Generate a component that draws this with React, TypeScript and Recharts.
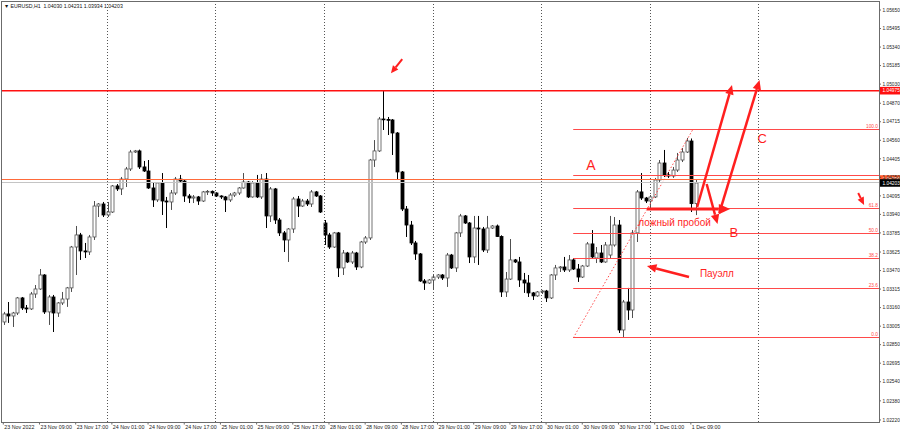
import React from 'react';
import { ComposedChart, Bar, XAxis, YAxis, ReferenceLine, ReferenceDot } from 'recharts';

// EURUSD H1, 23 Nov 01:00 .. 1 Dec 10:00 (one entry per hour bar)
const opens = [
  1.0304, 1.03107, 1.0309, 1.03115, 1.03241, 1.03157, 1.03149, 1.03274, 1.03316, 1.03433,
  1.03124, 1.03249, 1.03115, 1.03199, 1.03232, 1.03325, 1.03667, 1.03768, 1.03634, 1.03626,
  1.03751, 1.0401, 1.04027, 1.03935, 1.0396, 1.04178, 1.04153, 1.04236, 1.0432, 1.04462,
  1.04471, 1.04337, 1.04303, 1.04161, 1.04061, 1.04203, 1.04052, 1.04044, 1.04119, 1.04236,
  1.04219, 1.04094, 1.04077, 1.04086, 1.04052, 1.04128, 1.04133, 1.04119, 1.04094, 1.04086,
  1.04061, 1.04102, 1.04119, 1.04161, 1.04211, 1.04086, 1.04203, 1.04086, 1.04236, 1.03927,
  1.04153, 1.03893, 1.03785, 1.03726, 1.03818, 1.04069, 1.0401, 1.04052, 1.04027, 1.04128,
  1.04094, 1.03868, 1.03768, 1.03667, 1.03785, 1.03492, 1.03617, 1.03542, 1.03617, 1.035,
  1.03709, 1.03743, 1.04395, 1.04471, 1.04738, 1.04734, 1.0473, 1.04621, 1.04295, 1.03985,
  1.03851, 1.03701, 1.03609, 1.03383, 1.03366, 1.03391, 1.03416, 1.03433, 1.03408, 1.036,
  1.03492, 1.03785, 1.03927, 1.03868, 1.03584, 1.03826, 1.03818, 1.03642, 1.03826, 1.03843,
  1.03755, 1.03291, 1.03399, 1.03559, 1.03542, 1.03391, 1.03366, 1.03283, 1.03258, 1.03291,
  1.03299, 1.03241, 1.03433, 1.03492, 1.035, 1.03475, 1.03559, 1.03483, 1.03416, 1.03508,
  1.03693, 1.03575, 1.03617, 1.03542, 1.036, 1.03684, 1.03851, 1.02973, 1.03207, 1.0314,
  1.03785, 1.04128, 1.04077, 1.04052, 1.04086, 1.04228, 1.0437, 1.0427, 1.04261, 1.04311,
  1.04395, 1.04462, 1.04554, 1.0403,
];
const highs = [
  1.03124, 1.03207, 1.03124, 1.03249, 1.03249, 1.03182, 1.03291, 1.03349, 1.03483, 1.0344,
  1.03266, 1.03266, 1.03207, 1.03291, 1.03333, 1.03676, 1.03843, 1.03785, 1.03701, 1.03768,
  1.04052, 1.04035, 1.04044, 1.04044, 1.04186, 1.04194, 1.04253, 1.04337, 1.04479, 1.04479,
  1.04482, 1.04387, 1.04395, 1.04203, 1.0421, 1.04286, 1.04086, 1.04144, 1.04253, 1.0427,
  1.04236, 1.04111, 1.04102, 1.04094, 1.04136, 1.04144, 1.0414, 1.04125, 1.041, 1.04094,
  1.04119, 1.04128, 1.04169, 1.04286, 1.04219, 1.04219, 1.0427, 1.04278, 1.04286, 1.04169,
  1.04161, 1.0391, 1.03801, 1.03826, 1.04086, 1.04094, 1.04069, 1.04069, 1.04144, 1.04136,
  1.04102, 1.03893, 1.03785, 1.03793, 1.03793, 1.03642, 1.03626, 1.03634, 1.03626, 1.03718,
  1.03759, 1.04404, 1.04562, 1.04755, 1.04972, 1.04755, 1.04738, 1.04629, 1.04303, 1.0401,
  1.03885, 1.03718, 1.03617, 1.03399, 1.03399, 1.03433, 1.03441, 1.03441, 1.03617, 1.03609,
  1.03793, 1.03944, 1.03935, 1.03876, 1.03927, 1.03927, 1.03835, 1.03927, 1.03851, 1.03855,
  1.03765, 1.03458, 1.03734, 1.03567, 1.03584, 1.0345, 1.03433, 1.03291, 1.03299, 1.03308,
  1.03308, 1.03441, 1.03517, 1.03508, 1.03584, 1.036, 1.03575, 1.03525, 1.03517, 1.03709,
  1.03809, 1.03667, 1.03684, 1.03709, 1.03927, 1.03918, 1.03893, 1.03224, 1.03325, 1.03809,
  1.04144, 1.04286, 1.04086, 1.04102, 1.04245, 1.04395, 1.04479, 1.04295, 1.04337, 1.04454,
  1.04496, 1.04579, 1.04575, 1.04231,
];
const lows = [
  1.03015, 1.03032, 1.02998, 1.03098, 1.0314, 1.03115, 1.0314, 1.03241, 1.03308, 1.03107,
  1.03015, 1.02956, 1.03082, 1.03182, 1.03166, 1.03291, 1.03433, 1.03559, 1.03575, 1.036,
  1.03726, 1.03918, 1.03918, 1.03918, 1.03952, 1.04136, 1.04102, 1.04169, 1.04303, 1.04454,
  1.0432, 1.04295, 1.04153, 1.04002, 1.04044, 1.03935, 1.03826, 1.03977, 1.04102, 1.04211,
  1.04044, 1.04035, 1.04035, 1.04019, 1.04044, 1.04102, 1.04094, 1.04086, 1.04069, 1.0396,
  1.04044, 1.04086, 1.04102, 1.04155, 1.04077, 1.0408, 1.04077, 1.04069, 1.03826, 1.03876,
  1.0386, 1.03759, 1.03625, 1.03542, 1.03785, 1.03918, 1.04002, 1.0401, 1.04002, 1.04086,
  1.03952, 1.03684, 1.03651, 1.03659, 1.03416, 1.03433, 1.03533, 1.03525, 1.03475, 1.0349,
  1.03693, 1.03726, 1.04337, 1.04462, 1.04646, 1.04604, 1.04437, 1.04228, 1.03968, 1.03751,
  1.03684, 1.03559, 1.03375, 1.03308, 1.03358, 1.03308, 1.03399, 1.03391, 1.03333, 1.03483,
  1.03458, 1.03751, 1.0386, 1.03533, 1.03533, 1.03517, 1.03625, 1.03617, 1.03818, 1.03751,
  1.03249, 1.03249, 1.03391, 1.03533, 1.03333, 1.03283, 1.03249, 1.03224, 1.0325, 1.03274,
  1.03207, 1.03232, 1.03391, 1.03458, 1.03458, 1.03458, 1.03475, 1.03375, 1.03408, 1.035,
  1.03575, 1.03533, 1.03533, 1.03535, 1.03575, 1.0367, 1.02948, 1.02906, 1.03057, 1.03073,
  1.03709, 1.04061, 1.04035, 1.03977, 1.04077, 1.04211, 1.04253, 1.04245, 1.04245, 1.04295,
  1.04378, 1.04454, 1.0396, 1.03934,
];
const closes = [
  1.03107, 1.0309, 1.03115, 1.03241, 1.03157, 1.03149, 1.03274, 1.03316, 1.03433, 1.03124,
  1.03249, 1.03115, 1.03199, 1.03232, 1.03325, 1.03667, 1.03768, 1.03634, 1.03626, 1.03751,
  1.0401, 1.04027, 1.03935, 1.0396, 1.04178, 1.04153, 1.04236, 1.0432, 1.04462, 1.04471,
  1.04337, 1.04303, 1.04161, 1.04061, 1.04203, 1.04052, 1.04044, 1.04119, 1.04236, 1.04219,
  1.04094, 1.04077, 1.04086, 1.04052, 1.04128, 1.04133, 1.04119, 1.04094, 1.04086, 1.04061,
  1.04102, 1.04119, 1.04161, 1.04211, 1.04086, 1.04203, 1.04086, 1.04236, 1.03927, 1.04153,
  1.03893, 1.03785, 1.03726, 1.03818, 1.04069, 1.0401, 1.04052, 1.04027, 1.04128, 1.04094,
  1.0396, 1.03768, 1.03667, 1.03785, 1.03492, 1.03617, 1.03542, 1.03617, 1.035, 1.03709,
  1.03743, 1.04395, 1.04471, 1.04738, 1.04734, 1.0473, 1.04621, 1.04295, 1.03985, 1.03851,
  1.03701, 1.03609, 1.03383, 1.03366, 1.03391, 1.03416, 1.03433, 1.03408, 1.036, 1.03492,
  1.03785, 1.03927, 1.03868, 1.03584, 1.03826, 1.03818, 1.03642, 1.03826, 1.03843, 1.03755,
  1.03291, 1.03399, 1.03559, 1.03542, 1.03391, 1.03366, 1.03283, 1.03258, 1.03291, 1.03299,
  1.03241, 1.03433, 1.03492, 1.035, 1.03475, 1.03559, 1.03483, 1.03416, 1.03508, 1.03693,
  1.03584, 1.03617, 1.03542, 1.03684, 1.03684, 1.03851, 1.02973, 1.03207, 1.0314, 1.03785,
  1.04128, 1.04077, 1.04052, 1.04086, 1.04228, 1.0437, 1.0427, 1.04261, 1.04311, 1.04395,
  1.04462, 1.04554, 1.0403, 1.04203,
];

const timeTickIdx = [0, 8, 16, 24, 32, 40, 48, 56, 64, 72, 80, 88, 96, 104, 112, 120, 128, 136, 144, 152];
const timeLabels = [
  '23 Nov 2022', '23 Nov 09:00', '23 Nov 17:00', '24 Nov 01:00', '24 Nov 09:00', '24 Nov 17:00',
  '25 Nov 01:00', '25 Nov 09:00', '25 Nov 17:00', '28 Nov 01:00', '28 Nov 09:00', '28 Nov 17:00',
  '29 Nov 01:00', '29 Nov 09:00', '29 Nov 17:00', '30 Nov 01:00', '30 Nov 09:00', '30 Nov 17:00',
  '1 Dec 01:00', '1 Dec 09:00',
];
const daySeparators = [23, 47, 71, 95, 119, 143, 167];
const priceTicks = [
  1.0565, 1.05495, 1.0534, 1.05185, 1.0503, 1.0487, 1.04715, 1.0456, 1.04405, 1.0425, 1.04095, 1.0394,
  1.03785, 1.03625, 1.0347, 1.03315, 1.0316, 1.03005, 1.0285, 1.02695, 1.0254, 1.0238, 1.0222,
];

// drawn objects
const resistance = 1.04975;
const orangeLevel = 1.04236;
const levelA = 1.04264;
const fibLevels = [0, 23.6, 38.2, 50, 61.8, 100];
const fibLow = 1.02906;
const fibHigh = 1.04654;
const fibStart = 126;
const fibEnd = 152.5;

const arrowFrom = [[88.2, 1.0524], [189.0, 1.04119], [151.6, 1.03416], [153.4, 1.04002], [155.5, 1.04194], [158.3, 1.03951], [142.3, 1.03985]];
const arrowTo = [[85.7, 1.0512], [190.3, 1.04019], [142.3, 1.03508], [161.1, 1.05023], [157.9, 1.0386], [167.2, 1.05064], [160.7, 1.03985]];
const arrowWeight = [2, 2, 2.5, 2.5, 2.5, 2.5, 3];

const noteText = ['A', 'B', 'C', 'ложный пробой', 'Пауэлл'];
const noteAt = [[129.9, 1.04312], [161.5, 1.03751], [167.8, 1.04537], [140.4, 1.03843], [154.0, 1.03416]];
const noteSize = [14, 13, 13, 10, 10];
const noteAnchor = ['middle', 'middle', 'middle', 'start', 'start'];

const candles = opens.map((o, i) => ({ idx: i, open: o, high: highs[i], low: lows[i], close: closes[i] }));
const last = candles.length - 1;

const xDomain = [-0.29, 193.6];
const yDomain = [1.02203, 1.05717];
const xMax = xDomain[1];

const FONT = '"Liberation Sans", Arial, sans-serif';
const RED = '#ff1f1f';
const FIB_RED = '#ff4a4a';

// snap a 1px line onto the pixel grid so it stays crisp
const crisp = (v: number) => Math.round(v - 0.5) + 0.5;

const Candle = (props: any) => {
  const { x, y, width, height, payload } = props;
  if (!payload) return null;
  const { open, close, high, low } = payload;
  const top = Math.min(y, y + height);
  const bot = Math.max(y, y + height);
  const span = high - low;
  const toY = (v: number) => (span > 0 ? top + ((high - v) / span) * (bot - top) : top);
  const cx = Math.round(x + width / 2) + 0.5;
  const up = close >= open;
  const bTop = toY(Math.max(open, close));
  const bh = Math.max(toY(Math.min(open, close)) - bTop, 0.8);
  const col = up ? '#505050' : '#000';
  return (
    <g>
      <line x1={cx} y1={top} x2={cx} y2={bot} stroke={col} strokeWidth={1} />
      <rect x={cx - 1.5} y={bTop} width={3} height={bh} fill={up ? '#fff' : '#000'} stroke={col} strokeWidth={0.8} />
    </g>
  );
};

const PriceTick = (props: any) => {
  const { x, y, payload } = props;
  return (
    <g>
      <line x1={x} y1={y} x2={x + 2} y2={y} stroke="#444" strokeWidth={0.8} />
      <text x={x + 3.5} y={y + 1.7} fontSize={4.8} fontFamily={FONT} fill="#222">
        {Number(payload.value).toFixed(5)}
      </text>
    </g>
  );
};

const TimeTick = (props: any) => {
  const { x, y, payload } = props;
  const k = timeTickIdx.indexOf(payload.value);
  return (
    <g>
      <line x1={x} y1={y} x2={x} y2={y + 2.5} stroke="#444" strokeWidth={0.8} />
      <text x={x + 1} y={y + 7.3} fontSize={5.3} fontFamily={FONT} fill="#222">
        {timeLabels[k]}
      </text>
    </g>
  );
};

const daySep = (p: any) => (
  <line x1={crisp(p.x1)} y1={p.y1} x2={crisp(p.x2)} y2={p.y2} stroke="#555" strokeWidth={1} strokeDasharray="1 2" />
);

const arrowShape = (w: number) => (p: any) => {
  const { x1, y1, x2, y2 } = p;
  const head = w * 3.8;
  const a = Math.atan2(y2 - y1, x2 - x1);
  const bx = x2 - head * Math.cos(a);
  const by = y2 - head * Math.sin(a);
  const hw = head * 0.45;
  const nx = -Math.sin(a) * hw;
  const ny = Math.cos(a) * hw;
  return (
    <g>
      <line x1={x1} y1={y1} x2={bx} y2={by} stroke={RED} strokeWidth={w} />
      <polygon points={`${x2},${y2} ${bx + nx},${by + ny} ${bx - nx},${by - ny}`} fill={RED} />
    </g>
  );
};

const plainLine = (stroke: string, w: number) => (p: any) => {
  const yy = w % 2 === 1 ? crisp(p.y1) : p.y1;
  return <line x1={p.x1} y1={yy} x2={p.x2} y2={yy} stroke={stroke} strokeWidth={w} />;
};

const taggedLine = (stroke: string, w: number, tag: string, tagFill: string) => (p: any) => {
  const right = Math.max(p.x1, p.x2);
  const yy = w === 1 ? crisp(p.y1) : p.y1;
  return (
    <g>
      <line x1={p.x1} y1={yy} x2={p.x2} y2={yy} stroke={stroke} strokeWidth={w} />
      <rect x={right + 0.5} y={p.y1 - 3.8} width={21} height={7.6} fill={tagFill} />
      <text x={right + 3.5} y={p.y1 + 1.7} fontSize={4.8} fontFamily={FONT} fill="#fff">
        {tag}
      </text>
    </g>
  );
};

const fibShape = (label: string) => (p: any) => {
  const right = Math.max(p.x1, p.x2);
  const yy = crisp(p.y1);
  return (
    <g>
      <line x1={p.x1} y1={yy} x2={p.x2} y2={yy} stroke={FIB_RED} strokeWidth={1} />
      <text x={right - 1} y={yy - 1.5} textAnchor="end" fontSize={4.8} fontFamily={FONT} fill={FIB_RED}>
        {label}
      </text>
    </g>
  );
};

const noteShape = (text: string, size: number, anchor: string) => (p: any) => (
  <text x={p.cx} y={p.cy} fontSize={size} fontFamily={FONT} fill={RED} textAnchor={anchor as any}>
    {text}
  </text>
);

const header = `EURUSD,H1  ${opens[last].toFixed(5)} ${highs[last].toFixed(5)} ${lows[last].toFixed(5)} ${closes[last].toFixed(5)}`;

export default function App() {
  return (
    <div style={{ position: 'absolute', left: 0, top: 0, width: 900, height: 434, background: '#fff', overflow: 'hidden' }}>
      <ComposedChart width={900} height={434} data={candles} margin={{ top: 2, right: 0, bottom: 0, left: 2 }}>
        <XAxis
          type="number"
          dataKey="idx"
          domain={xDomain}
          ticks={timeTickIdx}
          interval={0}
          allowDataOverflow
          axisLine={false}
          tickLine={false}
          tickSize={0}
          tickMargin={0}
          height={12}
          tick={<TimeTick />}
        />
        <YAxis
          orientation="right"
          type="number"
          domain={yDomain}
          ticks={priceTicks}
          interval={0}
          allowDataOverflow
          axisLine={false}
          tickLine={false}
          tickSize={0}
          tickMargin={0}
          width={21}
          tick={<PriceTick />}
        />
        {daySeparators.map((d) => (
          <ReferenceLine key={`d${d}`} x={d} ifOverflow="visible" shape={daySep} />
        ))}
        <Bar dataKey={(d: any) => [d.low, d.high]} shape={<Candle />} isAnimationActive={false} barCategoryGap={0} />
        {fibLevels.map((lv) => {
          const p = fibLow + ((fibHigh - fibLow) * lv) / 100;
          return (
            <ReferenceLine
              key={`f${lv}`}
              segment={[{ x: fibStart, y: p }, { x: xMax, y: p }]}
              ifOverflow="visible"
              shape={fibShape(lv.toFixed(1))}
            />
          );
        })}
        <ReferenceLine
          segment={[{ x: fibStart, y: fibLow }, { x: fibEnd, y: fibHigh }]}
          stroke={FIB_RED}
          strokeWidth={1}
          strokeDasharray="1.5 2"
          ifOverflow="visible"
        />
        <ReferenceLine
          segment={[{ x: fibStart, y: levelA }, { x: xMax, y: levelA }]}
          ifOverflow="visible"
          shape={plainLine(FIB_RED, 1)}
        />
        <ReferenceLine y={resistance} ifOverflow="visible" shape={taggedLine('#ff1010', 1.5, resistance.toFixed(5), '#ff1010')} />
        <ReferenceLine y={orangeLevel} ifOverflow="visible" shape={taggedLine('#ff6a3a', 1, orangeLevel.toFixed(5), '#ff5a2a')} />
        <ReferenceLine y={closes[last]} ifOverflow="visible" shape={taggedLine('#c4c4c4', 1, closes[last].toFixed(5), '#000')} />
        {arrowFrom.map((f, k) => (
          <ReferenceLine
            key={`a${k}`}
            segment={[{ x: f[0], y: f[1] }, { x: arrowTo[k][0], y: arrowTo[k][1] }]}
            ifOverflow="visible"
            shape={arrowShape(arrowWeight[k])}
          />
        ))}
        {noteText.map((t, k) => (
          <ReferenceDot
            key={`n${k}`}
            x={noteAt[k][0]}
            y={noteAt[k][1]}
            r={0}
            ifOverflow="visible"
            shape={noteShape(t, noteSize[k], noteAnchor[k])}
          />
        ))}
      </ComposedChart>
      <div
        style={{
          position: 'absolute',
          left: 1,
          top: 1,
          width: 879,
          height: 422,
          boxSizing: 'border-box',
          border: '1px solid #6b6b6b',
          pointerEvents: 'none',
        }}
      />
      <div
        style={{
          position: 'absolute',
          left: 4,
          top: 3,
          fontFamily: FONT,
          fontSize: 5.2,
          lineHeight: '7px',
          color: '#111',
          whiteSpace: 'pre',
        }}
      >
        {'\u25BC ' + header}
      </div>
    </div>
  );
}
